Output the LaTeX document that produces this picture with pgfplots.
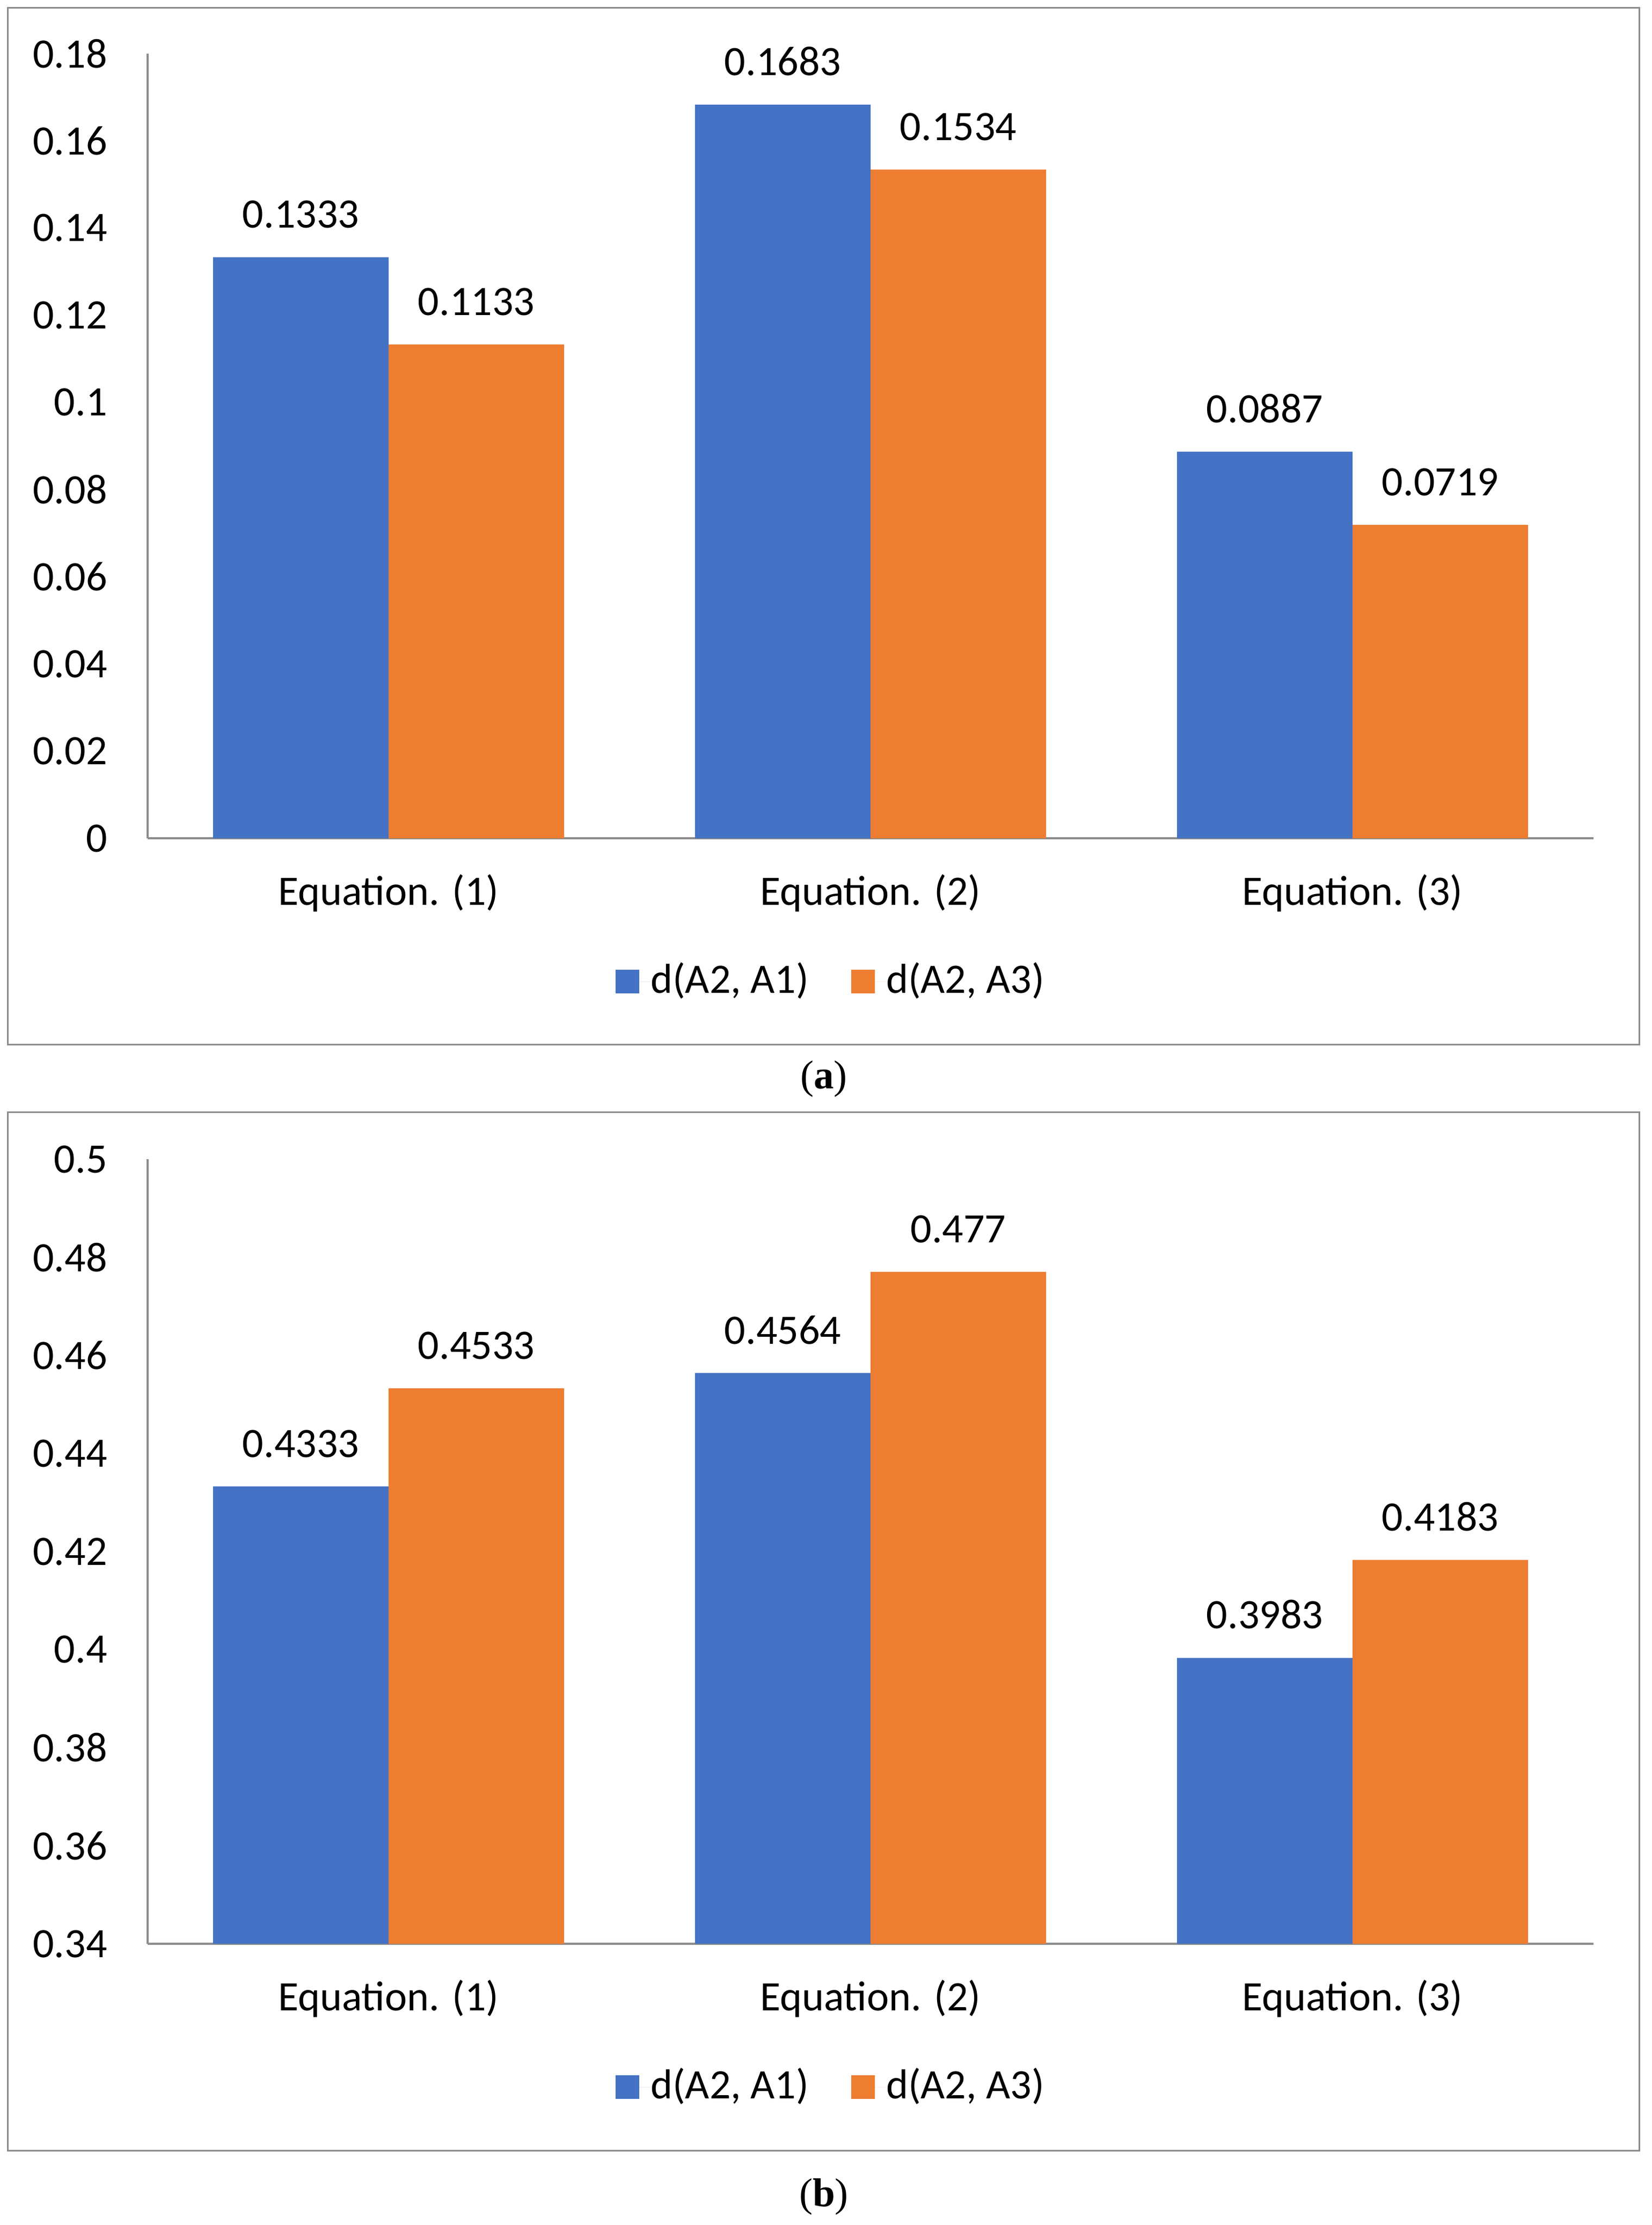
\documentclass[border=0pt]{standalone}
\usepackage{fontspec}
\setmainfont{Carlito}
\newfontfamily\capfont{Liberation Serif}
\usepackage{pgfplots}
\pgfplotsset{compat=1.18}
\definecolor{xblue}{HTML}{4472C4}
\definecolor{xorange}{HTML}{ED7D31}
\definecolor{xgray}{HTML}{8C8C8C}
\newcommand{\chfont}{\fontsize{7.8pt}{9pt}\selectfont}
\pgfplotsset{
  excelbar/.style={
    scale only axis, width=269.4pt, height=146.2pt,
    xmin=-0.5, xmax=2.5,
    xtick={0,1,2},
    xticklabels={Equation. (1),Equation. (2),Equation. (3)},
    axis x line*=bottom, axis y line*=left,
    axis line style={xgray, line width=0.4pt, -},
    major tick length=0pt, tick style={draw=none},
    ybar=0pt, bar width=32.7pt,
    tick label style={font=\chfont, text=black},
    yticklabel style={xshift=-4.0pt},
    xticklabel style={yshift=-3.2pt},
    nodes near coords, point meta=explicit symbolic,
    every node near coord/.append style={font=\chfont, text=black, yshift=1.85pt},
    legend image code/.code={\fill[##1] (0pt,-2.1pt) rectangle (4.4pt,2.3pt); \path (0pt,0pt) -- (6.5pt,0pt);},
    legend style={draw=none, fill=none, legend columns=2, font=\chfont,
      /tikz/every even column/.append style={column sep=7.9pt},
      at={(0.472,-0.183)}, anchor=center, inner sep=0pt,
      nodes={inner sep=0pt}},
    legend cell align=left,
  }
}
\begin{document}
\begin{tikzpicture}
\path[use as bounding box] (0pt,0pt) rectangle (307.7pt,-414.6pt);
\fill[white] (0pt,0pt) rectangle (307.7pt,-414.6pt);
\draw[xgray, line width=0.3pt] (1.4pt,-1.5pt) rectangle (305.4pt,-194.6pt);
\draw[xgray, line width=0.3pt] (1.4pt,-207.2pt) rectangle (305.4pt,-400.7pt);
\node[font=\capfont\fontsize{7.5pt}{9pt}\selectfont] at (153.5pt,-201.0pt) {(\textbf{a})};
\node[font=\capfont\fontsize{7.5pt}{9pt}\selectfont] at (153.5pt,-409.3pt) {(\textbf{b})};

\begin{axis}[excelbar, at={(27.5pt,-156.2pt)}, anchor=south west,
  ymin=0, ymax=0.18,
  ytick={0,0.02,0.04,0.06,0.08,0.1,0.12,0.14,0.16,0.18},
  yticklabels={0,0.02,0.04,0.06,0.08,0.1,0.12,0.14,0.16,0.18}]
\addplot[fill=xblue, draw=none] coordinates {(0,0.1333) [0.1333] (1,0.1683) [0.1683] (2,0.0887) [0.0887]};
\addplot[fill=xorange, draw=none] coordinates {(0,0.1133) [0.1133] (1,0.1534) [0.1534] (2,0.0719) [0.0719]};
\legend{{d(A2, A1)},{d(A2, A3)}}
\end{axis}

\begin{axis}[excelbar, at={(27.5pt,-362.2pt)}, anchor=south west,
  ymin=0.34, ymax=0.5,
  ytick={0.34,0.36,0.38,0.4,0.42,0.44,0.46,0.48,0.5},
  yticklabels={0.34,0.36,0.38,0.4,0.42,0.44,0.46,0.48,0.5}]
\addplot[fill=xblue, draw=none] coordinates {(0,0.4333) [0.4333] (1,0.4564) [0.4564] (2,0.3983) [0.3983]};
\addplot[fill=xorange, draw=none] coordinates {(0,0.4533) [0.4533] (1,0.477) [0.477] (2,0.4183) [0.4183]};
\legend{{d(A2, A1)},{d(A2, A3)}}
\end{axis}
\end{tikzpicture}
\end{document}
